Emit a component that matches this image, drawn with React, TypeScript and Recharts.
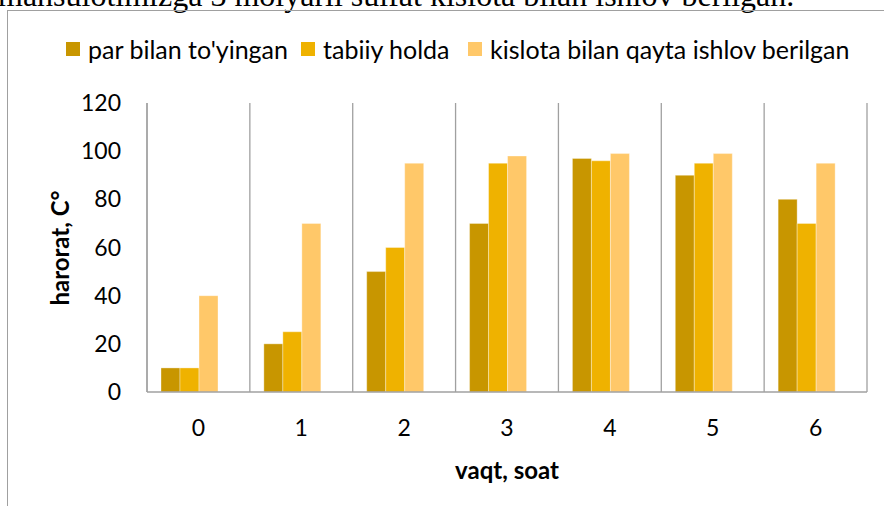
import { BarChart, Bar, XAxis, YAxis, CartesianGrid } from 'recharts'

const hours = ['0', '1', '2', '3', '4', '5', '6']
const steamed = [10, 20, 50, 70, 97, 90, 80]
const natural = [10, 25, 60, 95, 96, 95, 70]
const acidTreated = [40, 70, 95, 98, 99, 99, 95]
const yTicks = [0, 20, 40, 60, 80, 100, 120]

const series = [
  { key: 'steamed', name: "par bilan to'yingan", color: '#C89600' },
  { key: 'natural', name: 'tabiiy holda', color: '#EFB200' },
  { key: 'acid', name: 'kislota bilan qayta ishlov berilgan', color: '#FFC869' },
]

const data = hours.map((h, i) => ({
  hour: h,
  steamed: steamed[i],
  natural: natural[i],
  acid: acidTreated[i],
}))

const font = 'Lato, "Open Sans", sans-serif'
const grey = '#a0a0a0'
const legendX = [66, 301, 468]

// vertical lines sit between the categories, like Excel's category gridlines
const boundaryLines = ({ offset }: any) =>
  Array.from({ length: hours.length + 1 }, (_, k) => offset.left + (k * offset.width) / hours.length)

export default function App() {
  return (
    <div
      style={{
        position: 'absolute',
        left: 0,
        top: 0,
        width: 884,
        height: 506,
        overflow: 'hidden',
        background: '#fff',
      }}
    >
      <div
        style={{
          position: 'absolute',
          left: -2,
          top: -21,
          fontFamily: '"Liberation Serif", "Times New Roman", serif',
          fontSize: 32,
          lineHeight: '32px',
          whiteSpace: 'nowrap',
          color: '#000',
        }}
      >
        mahsulotimizga 3 moiyarli sulfat kislota bilan ishlov berilgan.
      </div>
      <div
        style={{
          position: 'absolute',
          left: 7,
          top: 10,
          width: 900,
          height: 520,
          border: '1px solid #a0a0a0',
        }}
      />
      {series.map((s, i) => (
        <div
          key={s.key}
          style={{
            position: 'absolute',
            left: legendX[i],
            top: 34,
            height: 30,
            display: 'flex',
            alignItems: 'center',
            fontFamily: font,
            fontSize: 25,
            whiteSpace: 'nowrap',
            color: '#000',
          }}
        >
          <span
            style={{
              display: 'inline-block',
              width: 14,
              height: 14,
              background: s.color,
              marginRight: 8,
            }}
          />
          {s.name}
        </div>
      ))}
      <div style={{ position: 'absolute', left: 0, top: 0 }}>
        <BarChart
          width={884}
          height={506}
          data={data}
          margin={{ top: 103, right: 17, left: 0, bottom: 54 }}
          barCategoryGap={14}
          barGap={0}
        >
          <CartesianGrid
            horizontal={false}
            verticalCoordinatesGenerator={boundaryLines}
            stroke={grey}
            strokeWidth={1.3}
          />
          <XAxis
            dataKey="hour"
            height={60}
            axisLine={{ stroke: grey, strokeWidth: 1.3 }}
            tickLine={false}
            tickSize={0}
            tickMargin={28}
            tick={{ fill: '#000', fontSize: 23, fontFamily: font }}
          />
          <YAxis
            width={147}
            domain={[0, 120]}
            ticks={yTicks}
            axisLine={{ stroke: grey, strokeWidth: 1.3 }}
            tickLine={false}
            tickSize={0}
            tickMargin={26}
            tick={{ fill: '#000', fontSize: 23, fontFamily: font }}
          />
          {series.map((s) => (
            <Bar
              key={s.key}
              dataKey={s.key}
              name={s.name}
              fill={s.color}
              stroke="#ffffff"
              strokeOpacity={0.35}
              isAnimationActive={false}
            />
          ))}
          {/* empty fourth slot, keeps the clusters shifted left as in the original */}
          <Bar dataKey="blank" legendType="none" fill="none" isAnimationActive={false} />
        </BarChart>
      </div>
      <div
        style={{
          position: 'absolute',
          left: 507,
          top: 469,
          transform: 'translate(-50%, -50%)',
          fontFamily: font,
          fontWeight: 700,
          fontSize: 24,
          whiteSpace: 'nowrap',
        }}
      >
        vaqt, soat
      </div>
      <div
        style={{
          position: 'absolute',
          left: 59,
          top: 248,
          transform: 'translate(-50%, -50%) rotate(-90deg)',
          fontFamily: font,
          fontWeight: 700,
          fontSize: 24,
          whiteSpace: 'nowrap',
        }}
      >
        harorat, C°
      </div>
    </div>
  )
}
